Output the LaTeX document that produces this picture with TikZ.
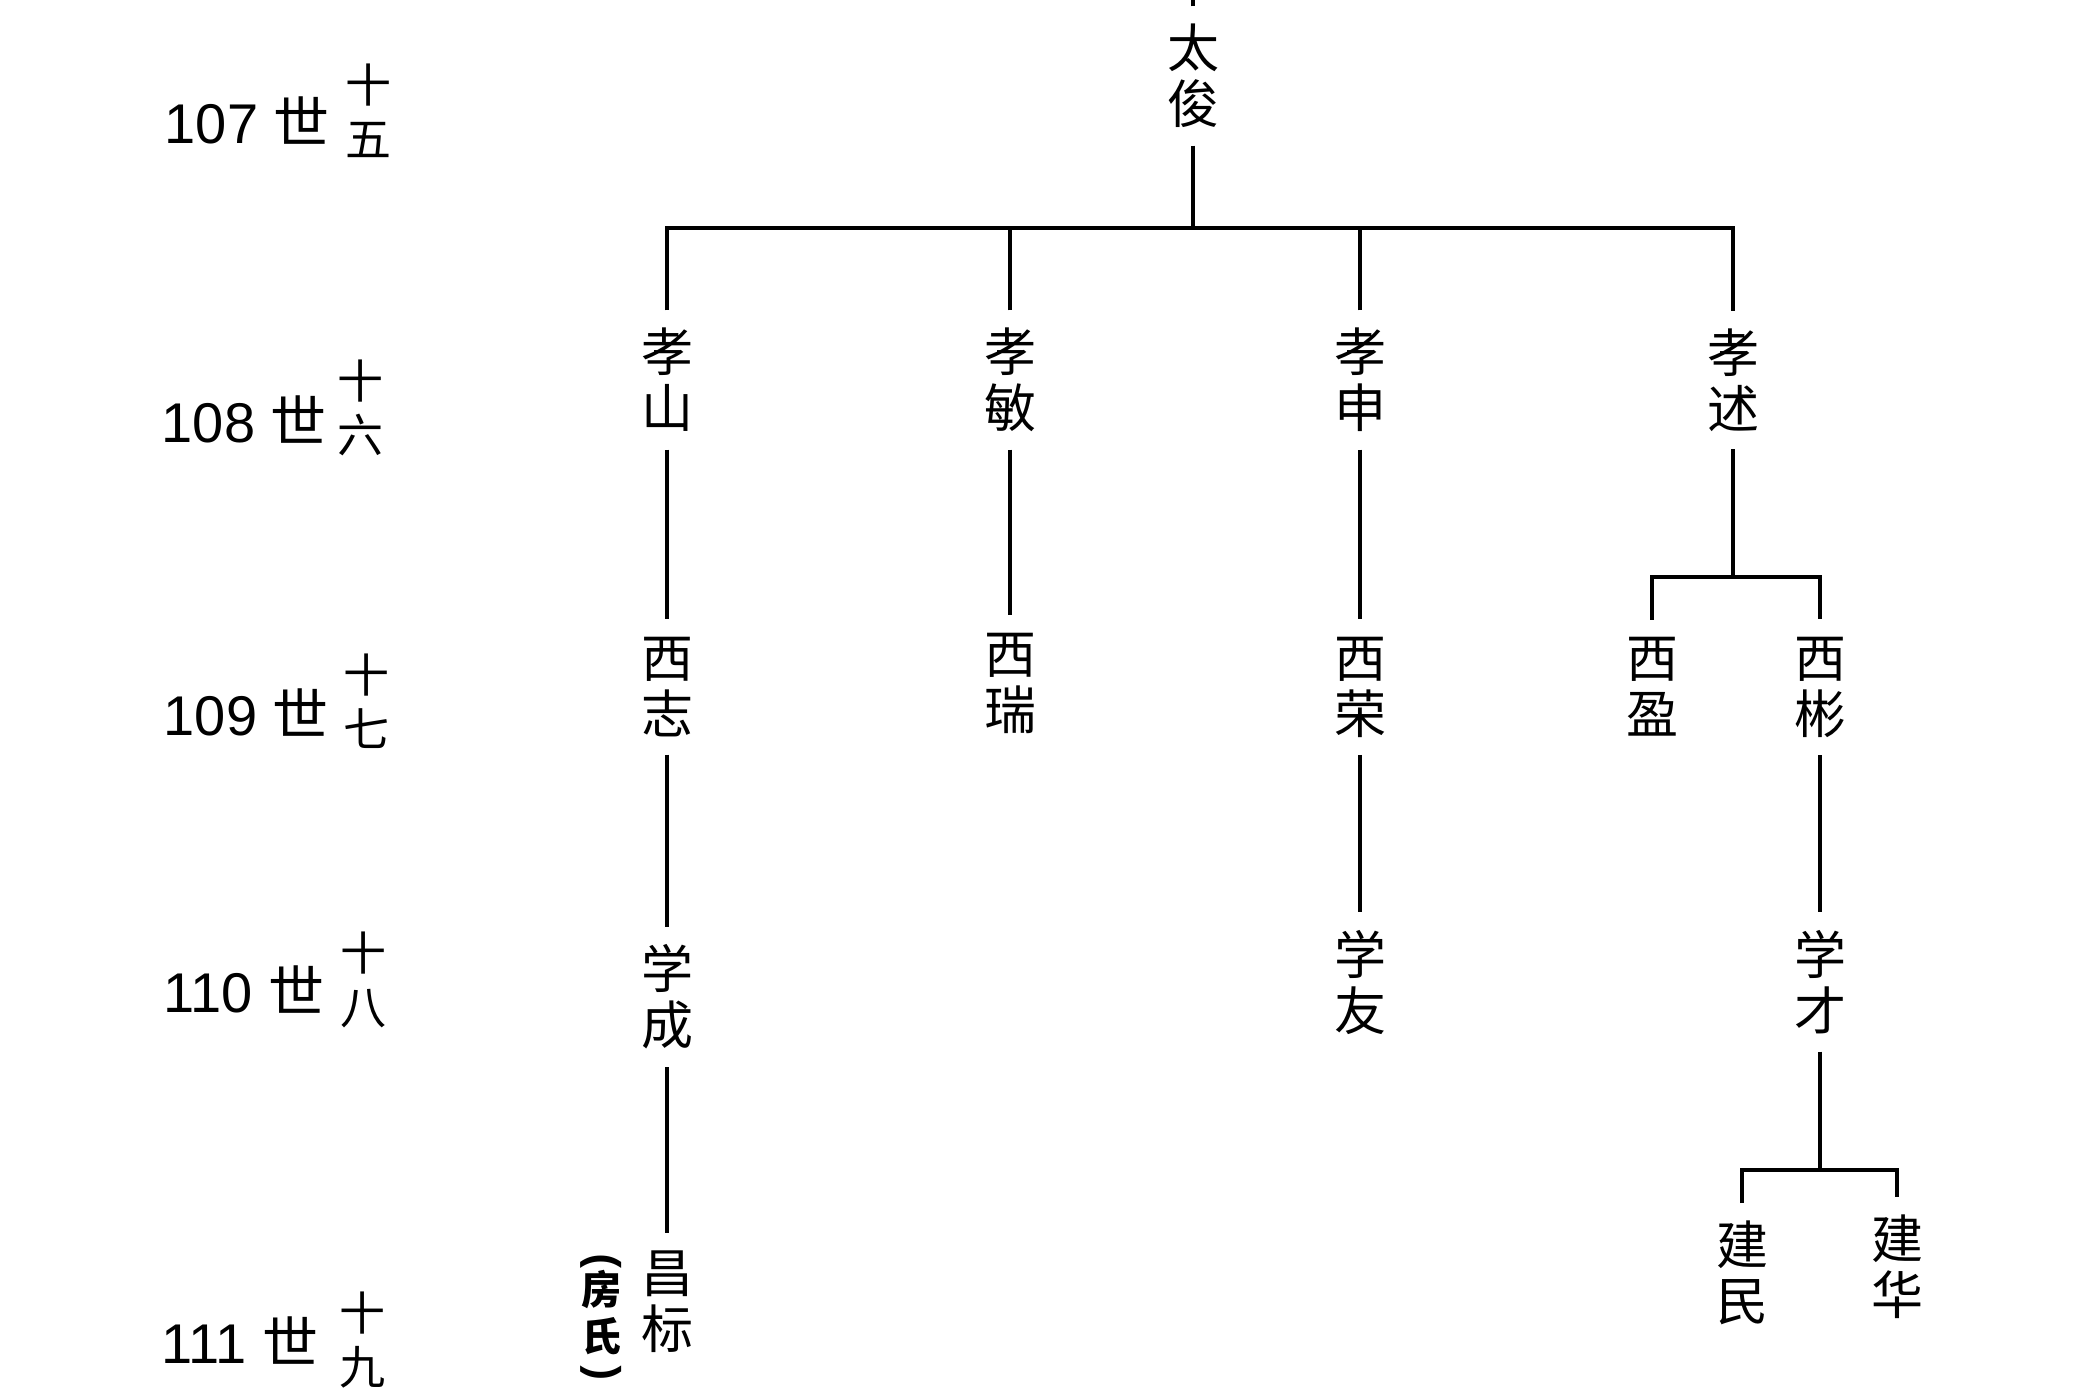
\documentclass[tikz,border=0pt]{standalone}
\usepackage{fontspec}
\setmainfont{Liberation Sans}
\newfontfamily\cjk{Noto Sans CJK SC}
\usetikzlibrary{positioning}

\begin{document}
\begin{tikzpicture}[
    x=1pt, y=-1pt,
    line width=3.5pt,
    person/.style={
        font={\cjk\fontsize{52}{56}\selectfont},
        align=center, inner xsep=2pt, inner ysep=16pt
    },
    gen/.style={
        font={\fontsize{56}{60}\selectfont},
        anchor=base west, inner sep=0pt
    },
    ord/.style={
        font={\cjk\fontsize{46}{54}\selectfont},
        align=center, inner sep=0pt
    },
    note/.style={
        font={\cjk\bfseries\fontsize{40}{44}\selectfont},
        align=center, inner sep=0pt
    },
]
\useasboundingbox (0,0) rectangle (2080,1387);

% ---------- Generation labels ----------
\node[gen] (gen107) at (163,143) {107 {\cjk 世}};
\node[gen] (gen108) at (160,442) {108 {\cjk 世}};
\node[gen] (gen109) at (162,735) {109 {\cjk 世}};
\node[gen] (gen110) at (162,1012) {110 {\cjk 世}};
\node[gen] (gen111) at (160,1363) {111 {\cjk 世}};

\node[ord] (ord107) at (368,111) {十\\五};
\node[ord] (ord108) at (360,408) {十\\六};
\node[ord] (ord109) at (366,701) {十\\七};
\node[ord] (ord110) at (363,980) {十\\八};
\node[ord] (ord111) at (362,1340) {十\\九};

% ---------- 107 ----------
\node[person] (taijun) at (1193,76) {太\\俊};

% ---------- 108 ----------
\node[person] (xiaoshan) at (667,380) {孝\\山};
\node[person] (xiaomin) at (1010,380) {孝\\敏};
\node[person] (xiaoshen) at (1360,380) {孝\\申};
\node[person] (xiaoshu) at (1733,380) {孝\\述};

% ---------- 109 ----------
\node[person] (xizhi) at (667,687) {西\\志};
\node[person] (xirui) at (1010,683) {西\\瑞};
\node[person] (xirong) at (1360,687) {西\\荣};
\node[person] (xiying) at (1652,687) {西\\盈};
\node[person] (xibin) at (1820,687) {西\\彬};

% ---------- 110 ----------
\node[person] (xuecheng) at (667,997) {学\\成};
\node[person] (xueyou) at (1360,982) {学\\友};
\node[person] (xuecai) at (1820,982) {学\\才};

% ---------- 111 ----------
\node[person] (changbiao) at (667,1302) {昌\\标};
% vertical brackets: turned round parentheses
\node[note] (fangshi) at (601,1317) {%
    \rotatebox{90}{\rmfamily\bfseries\fontsize{44}{44}\selectfont )}\\[-8pt]%
    房\\[3pt]%
    氏\\[-15pt]%
    \rotatebox{90}{\rmfamily\bfseries\fontsize{44}{44}\selectfont (}%
};
\node[person] (jianmin) at (1742,1273) {建\\民};
\node[person] (jianhua) at (1897,1267) {建\\华};

% ---------- Lines ----------
\coordinate (top) at (1193,0);
\coordinate (bar108) at (1193,228);
\coordinate (bar109) at (1733,577);
\coordinate (bar111) at (1820,1170);

\draw (taijun) -- (top);
\draw (taijun) -- (bar108);
\draw (xiaoshan) |- (bar108) -| (xiaoshu);
\draw (xiaomin) -- (xiaomin |- bar108);
\draw (xiaoshen) -- (xiaoshen |- bar108);

\draw (xiaoshan) -- (xizhi);
\draw (xiaomin) -- (xirui);
\draw (xiaoshen) -- (xirong);
\draw (xiaoshu) -- (bar109);
\draw (xiying) |- (bar109) -| (xibin);

\draw (xizhi) -- (xuecheng);
\draw (xirong) -- (xueyou);
\draw (xibin) -- (xuecai);

\draw (xuecheng) -- (changbiao);
\draw (xuecai) -- (bar111);
\draw (jianmin) |- (bar111) -| (jianhua);

\end{tikzpicture}
\end{document}
